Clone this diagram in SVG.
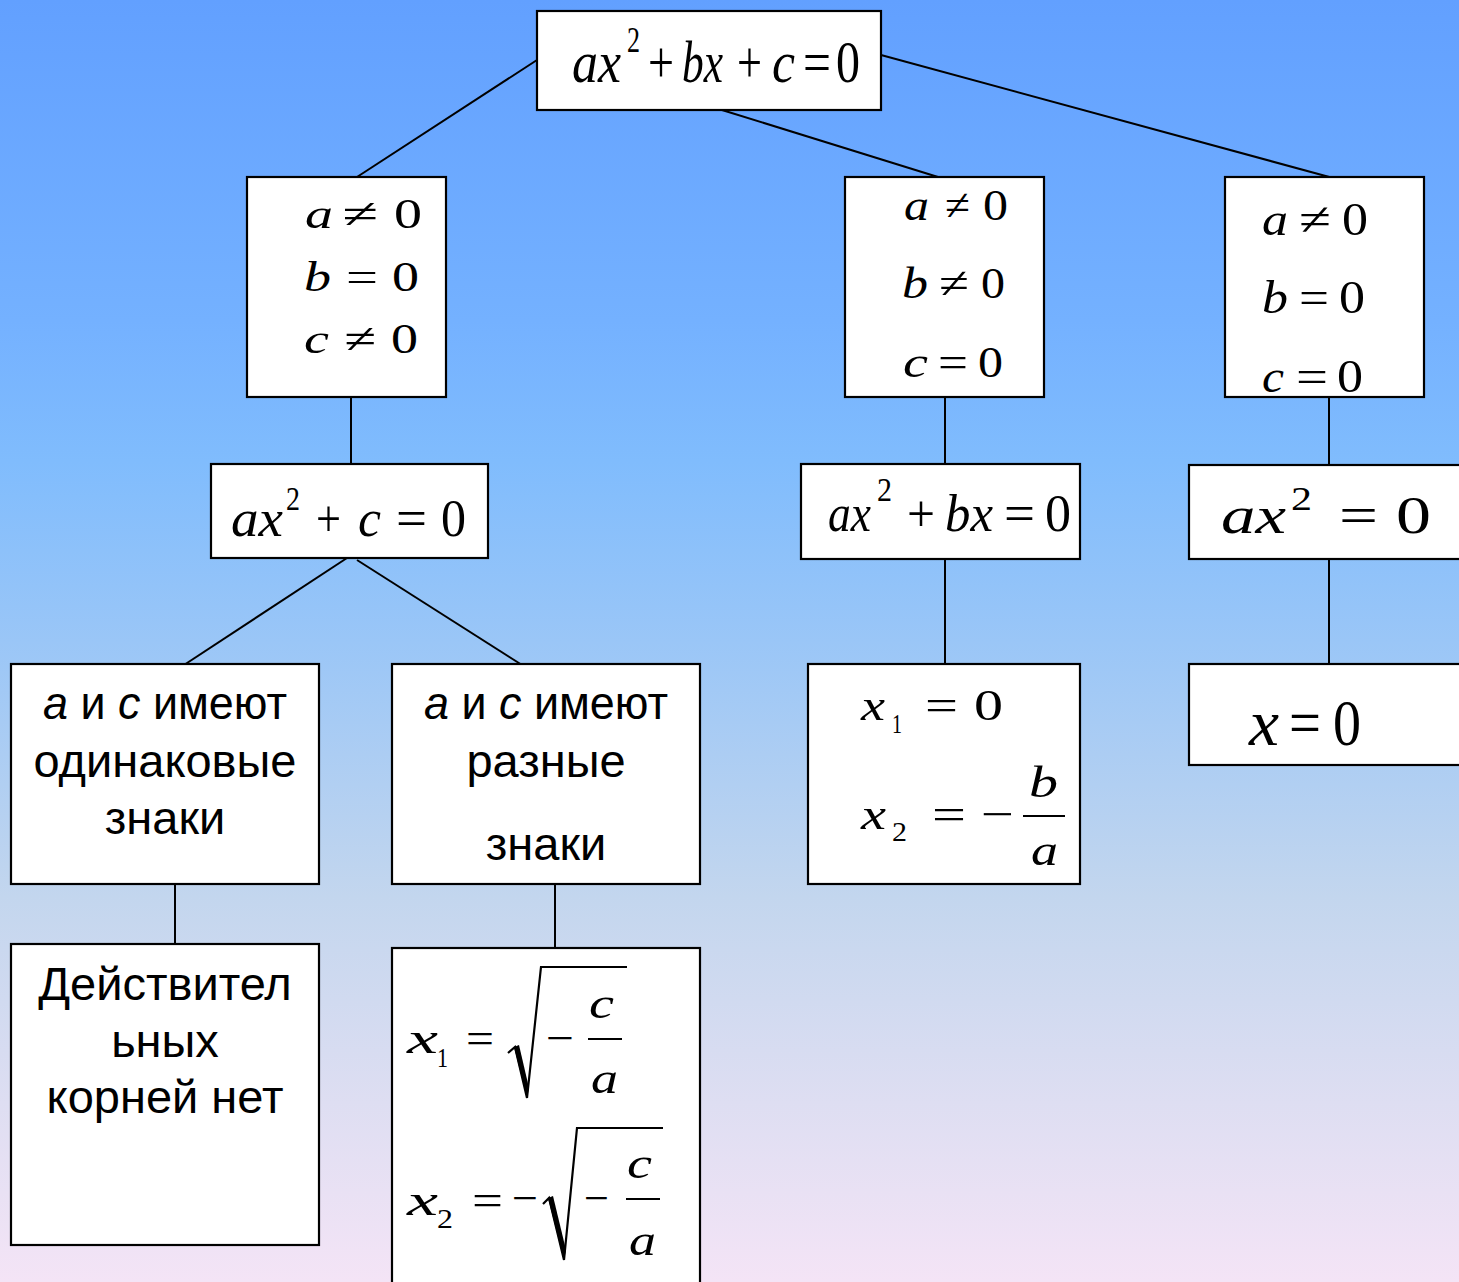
<svg xmlns="http://www.w3.org/2000/svg" width="1459" height="1282" viewBox="0 0 1459 1282">
<defs>
<linearGradient id="bg" x1="0" y1="0" x2="0" y2="1">
<stop offset="0" stop-color="#62A0FF"/>
<stop offset="0.25" stop-color="#74B1FF"/>
<stop offset="0.36" stop-color="#80BCFD"/>
<stop offset="0.5" stop-color="#9AC6F7"/>
<stop offset="0.7" stop-color="#C3D6EE"/>
<stop offset="0.86" stop-color="#DEDEF2"/>
<stop offset="1" stop-color="#F4E4F6"/>
</linearGradient>
<style>
.box{fill:#fff;stroke:#000;stroke-width:2.2}
.con line{stroke:#000;stroke-width:2}
.m{font-family:"Liberation Serif","Times New Roman",serif;fill:#000}
.i{font-style:italic}
.s{font-family:"Liberation Sans",Arial,sans-serif;font-size:47px;fill:#000;text-anchor:middle}
.fr{stroke:#000;stroke-width:2}
.rt{fill:none;stroke:#000;stroke-width:2.2;stroke-linejoin:miter}
</style>
</defs>
<rect x="0" y="0" width="1459" height="1282" fill="url(#bg)"/>

<g id="connectors" class="con">
<line x1="537" y1="60" x2="357" y2="177"/>
<line x1="722" y1="110" x2="938" y2="177"/>
<line x1="881" y1="55" x2="1333" y2="178"/>
<line x1="351" y1="397" x2="351" y2="465"/>
<line x1="945" y1="397" x2="945" y2="465"/>
<line x1="1329" y1="397" x2="1329" y2="466"/>
<line x1="347" y1="558" x2="184" y2="665"/>
<line x1="357" y1="560" x2="522" y2="665"/>
<line x1="945" y1="559" x2="945" y2="665"/>
<line x1="1329" y1="559" x2="1329" y2="665"/>
<line x1="175" y1="884" x2="175" y2="945"/>
<line x1="555" y1="884" x2="555" y2="949"/>
</g>

<g id="n-top">
<rect class="box" x="537" y="11" width="344" height="99"/>
<g class="m" font-size="60">
<text class="i" x="572" y="82" textLength="49" lengthAdjust="spacingAndGlyphs">ax</text>
<text x="627" y="52" font-size="36" textLength="13" lengthAdjust="spacingAndGlyphs">2</text>
<text x="648" y="82" textLength="26" lengthAdjust="spacingAndGlyphs">+</text>
<text class="i" x="682" y="82" textLength="41" lengthAdjust="spacingAndGlyphs">bx</text>
<text x="737" y="82" textLength="25" lengthAdjust="spacingAndGlyphs">+</text>
<text class="i" x="772" y="82" textLength="23" lengthAdjust="spacingAndGlyphs">c</text>
<text x="803" y="82" textLength="28" lengthAdjust="spacingAndGlyphs">=</text>
<text x="836" y="82" textLength="24" lengthAdjust="spacingAndGlyphs">0</text>
</g>
</g>

<g id="n-cond1">
<rect class="box" x="247" y="177" width="199" height="220"/>
<g class="m" font-size="42">
<text class="i" x="305" y="228" textLength="28" lengthAdjust="spacingAndGlyphs">a</text>
<text x="342" y="228" textLength="36" lengthAdjust="spacingAndGlyphs">≠</text>
<text x="394" y="228" textLength="28" lengthAdjust="spacingAndGlyphs">0</text>
<text class="i" x="304" y="291" textLength="27" lengthAdjust="spacingAndGlyphs">b</text>
<text x="346" y="291" textLength="32" lengthAdjust="spacingAndGlyphs">=</text>
<text x="392" y="291" textLength="27" lengthAdjust="spacingAndGlyphs">0</text>
<text class="i" x="304" y="353" textLength="25" lengthAdjust="spacingAndGlyphs">c</text>
<text x="344" y="353" textLength="32" lengthAdjust="spacingAndGlyphs">≠</text>
<text x="391" y="353" textLength="27" lengthAdjust="spacingAndGlyphs">0</text>
</g>
</g>

<g id="n-cond2">
<rect class="box" x="845" y="177" width="199" height="220"/>
<g class="m" font-size="44">
<text class="i" x="904" y="220" textLength="25" lengthAdjust="spacingAndGlyphs">a</text>
<text x="945" y="220" textLength="25" lengthAdjust="spacingAndGlyphs">≠</text>
<text x="983" y="220" textLength="25" lengthAdjust="spacingAndGlyphs">0</text>
<text class="i" x="902" y="298" textLength="26" lengthAdjust="spacingAndGlyphs">b</text>
<text x="939" y="298" textLength="30" lengthAdjust="spacingAndGlyphs">≠</text>
<text x="981" y="298" textLength="24" lengthAdjust="spacingAndGlyphs">0</text>
<text class="i" x="903" y="377" textLength="25" lengthAdjust="spacingAndGlyphs">c</text>
<text x="938" y="377" textLength="30" lengthAdjust="spacingAndGlyphs">=</text>
<text x="978" y="377" textLength="25" lengthAdjust="spacingAndGlyphs">0</text>
</g>
</g>

<g id="n-cond3">
<rect class="box" x="1225" y="177" width="199" height="220"/>
<g class="m" font-size="46">
<text class="i" x="1262" y="235" textLength="26" lengthAdjust="spacingAndGlyphs">a</text>
<text x="1299" y="235" textLength="32" lengthAdjust="spacingAndGlyphs">≠</text>
<text x="1342" y="235" textLength="26" lengthAdjust="spacingAndGlyphs">0</text>
<text class="i" x="1262" y="313" textLength="26" lengthAdjust="spacingAndGlyphs">b</text>
<text x="1299" y="313" textLength="30" lengthAdjust="spacingAndGlyphs">=</text>
<text x="1339" y="313" textLength="26" lengthAdjust="spacingAndGlyphs">0</text>
<text class="i" x="1262" y="392" textLength="22" lengthAdjust="spacingAndGlyphs">c</text>
<text x="1296" y="392" textLength="32" lengthAdjust="spacingAndGlyphs">=</text>
<text x="1337" y="392" textLength="26" lengthAdjust="spacingAndGlyphs">0</text>
</g>
</g>

<g id="n-eq1">
<rect class="box" x="211" y="464" width="277" height="94"/>
<g class="m" font-size="52">
<text class="i" x="231" y="536" textLength="52" lengthAdjust="spacingAndGlyphs">ax</text>
<text x="286" y="510" font-size="34" textLength="14" lengthAdjust="spacingAndGlyphs">2</text>
<text x="316" y="536" textLength="25" lengthAdjust="spacingAndGlyphs">+</text>
<text class="i" x="358" y="536" textLength="23" lengthAdjust="spacingAndGlyphs">c</text>
<text x="396" y="536" textLength="31" lengthAdjust="spacingAndGlyphs">=</text>
<text x="441" y="536" textLength="25" lengthAdjust="spacingAndGlyphs">0</text>
</g>
</g>

<g id="n-eq2">
<rect class="box" x="801" y="464" width="279" height="95"/>
<g class="m" font-size="52">
<text class="i" x="828" y="531" textLength="43" lengthAdjust="spacingAndGlyphs">ax</text>
<text x="877" y="501" font-size="34" textLength="15" lengthAdjust="spacingAndGlyphs">2</text>
<text x="907" y="531" textLength="28" lengthAdjust="spacingAndGlyphs">+</text>
<text class="i" x="945" y="531" textLength="48" lengthAdjust="spacingAndGlyphs">bx</text>
<text x="1004" y="531" textLength="31" lengthAdjust="spacingAndGlyphs">=</text>
<text x="1045" y="531" textLength="26" lengthAdjust="spacingAndGlyphs">0</text>
</g>
</g>

<g id="n-eq3">
<rect class="box" x="1189" y="465" width="280" height="94"/>
<g class="m" font-size="52">
<text class="i" x="1221" y="533" textLength="65" lengthAdjust="spacingAndGlyphs">ax</text>
<text x="1291" y="510" font-size="34" textLength="21" lengthAdjust="spacingAndGlyphs">2</text>
<text x="1339" y="533" textLength="39" lengthAdjust="spacingAndGlyphs">=</text>
<text x="1396" y="533" textLength="35" lengthAdjust="spacingAndGlyphs">0</text>
</g>
</g>

<g id="n-same">
<rect class="box" x="11" y="664" width="308" height="220"/>
<text class="s" x="165" y="719" textLength="244" lengthAdjust="spacingAndGlyphs"><tspan font-style="italic">а</tspan> и <tspan font-style="italic">с</tspan> имеют</text>
<text class="s" x="165" y="777">одинаковые</text>
<text class="s" x="165" y="834">знаки</text>
</g>

<g id="n-diff">
<rect class="box" x="392" y="664" width="308" height="220"/>
<text class="s" x="546" y="719" textLength="244" lengthAdjust="spacingAndGlyphs"><tspan font-style="italic">а</tspan> и <tspan font-style="italic">с</tspan> имеют</text>
<text class="s" x="546" y="777">разные</text>
<text class="s" x="546" y="860">знаки</text>
</g>

<g id="n-roots2">
<rect class="box" x="808" y="664" width="272" height="220"/>
<g class="m" font-size="44">
<text class="i" x="861" y="720" textLength="24" lengthAdjust="spacingAndGlyphs">x</text>
<text x="892" y="733" font-size="28" textLength="10" lengthAdjust="spacingAndGlyphs">1</text>
<text x="925" y="720" textLength="33" lengthAdjust="spacingAndGlyphs">=</text>
<text x="974" y="720" textLength="29" lengthAdjust="spacingAndGlyphs">0</text>
<text class="i" x="861" y="829" textLength="25" lengthAdjust="spacingAndGlyphs">x</text>
<text x="892" y="841" font-size="28" textLength="15" lengthAdjust="spacingAndGlyphs">2</text>
<text x="932" y="829" textLength="34" lengthAdjust="spacingAndGlyphs">=</text>
<text x="981" y="829" textLength="33" lengthAdjust="spacingAndGlyphs">−</text>
<text class="i" x="1029" y="797" textLength="29" lengthAdjust="spacingAndGlyphs">b</text>
<text class="i" x="1031" y="865" textLength="27" lengthAdjust="spacingAndGlyphs">a</text>
</g>
<line class="fr" x1="1023" y1="816" x2="1065" y2="816"/>
</g>

<g id="n-root3">
<rect class="box" x="1189" y="664" width="280" height="101"/>
<g class="m" font-size="66">
<text class="i" x="1249" y="745" textLength="30" lengthAdjust="spacingAndGlyphs">x</text>
<text x="1289" y="745" textLength="32" lengthAdjust="spacingAndGlyphs">=</text>
<text x="1333" y="745" textLength="28" lengthAdjust="spacingAndGlyphs">0</text>
</g>
</g>

<g id="n-none">
<rect class="box" x="11" y="944" width="308" height="301"/>
<text class="s" x="165" y="1000">Действител</text>
<text class="s" x="165" y="1057">ьных</text>
<text class="s" x="165" y="1113">корней нет</text>
</g>

<g id="n-roots1">
<rect class="box" x="392" y="948" width="308" height="345"/>
<g class="m" font-size="44">
<text class="i" x="407" y="1053" textLength="31" lengthAdjust="spacingAndGlyphs">x</text>
<text x="437" y="1067" font-size="28" textLength="11" lengthAdjust="spacingAndGlyphs">1</text>
<text x="466" y="1053" textLength="28" lengthAdjust="spacingAndGlyphs">=</text>
<text x="546" y="1053" textLength="28" lengthAdjust="spacingAndGlyphs">−</text>
<text class="i" x="589" y="1018" textLength="25" lengthAdjust="spacingAndGlyphs">c</text>
<text class="i" x="591" y="1093" textLength="27" lengthAdjust="spacingAndGlyphs">a</text>
<text class="i" x="407" y="1215" textLength="31" lengthAdjust="spacingAndGlyphs">x</text>
<text x="437" y="1228" font-size="28" textLength="16" lengthAdjust="spacingAndGlyphs">2</text>
<text x="472" y="1215" textLength="31" lengthAdjust="spacingAndGlyphs">=</text>
<text x="512" y="1213" textLength="26" lengthAdjust="spacingAndGlyphs">−</text>
<text x="584" y="1213" textLength="25" lengthAdjust="spacingAndGlyphs">−</text>
<text class="i" x="627" y="1178" textLength="25" lengthAdjust="spacingAndGlyphs">c</text>
<text class="i" x="629" y="1255" textLength="27" lengthAdjust="spacingAndGlyphs">a</text>
</g>
<path class="rt" d="M508,1053 L515,1047 L527,1098 L541,967 L627,967"/>
<path d="M514,1047 L519,1045 L529,1088 L527,1098 Z" fill="#000"/>
<line class="fr" x1="588" y1="1039" x2="622" y2="1039"/>
<path class="rt" d="M543,1204 L549,1198 L564,1260 L577,1128 L663,1128"/>
<path d="M548,1198 L553,1196 L566,1250 L564,1260 Z" fill="#000"/>
<line class="fr" x1="626" y1="1199" x2="660" y2="1199"/>
</g>
</svg>
